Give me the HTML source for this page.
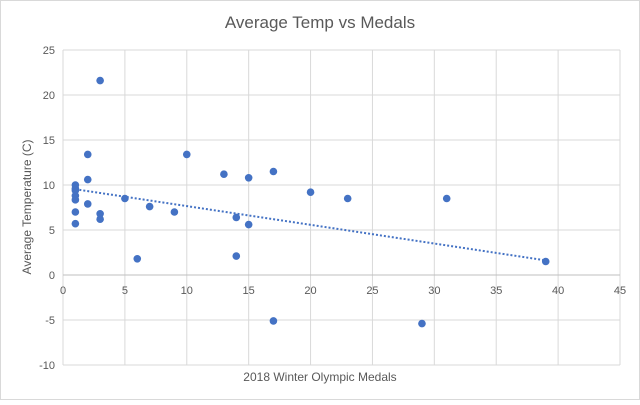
<!DOCTYPE html>
<html><head><meta charset="utf-8"><style>
body{margin:0;background:#fff}
svg text{font-family:"Liberation Sans",sans-serif;fill:#595959}
</style></head><body>
<svg id="c" width="640" height="400">
<rect x="0.5" y="0.5" width="639" height="399" fill="#fff" stroke="#d9d9d9"/>
<text x="320" y="28" text-anchor="middle" font-size="17">Average Temp vs Medals</text>
<text x="320" y="381" text-anchor="middle" font-size="12">2018 Winter Olympic Medals</text>
<text transform="translate(31,207) rotate(-90)" text-anchor="middle" font-size="12">Average Temperature  (C)</text>
<g id="grid"></g><g id="marks"></g>
</svg>
<script>
const xs=[1,1,1,1,1,1,1,2,2,2,3,3,3,5,6,7,9,10,13,14,14,15,15,17,17,20,23,29,31,39];
const ys=[10.0,9.6,9.4,8.8,8.35,7.0,5.7,13.4,10.6,7.9,21.6,6.8,6.2,8.5,1.8,7.6,7.0,13.4,11.2,6.4,2.1,10.8,5.6,11.5,-5.1,9.2,8.5,-5.4,8.5,1.5];
const xTicks=[0,5,10,15,20,25,30,35,40,45];
const yTicks=[25,20,15,10,5,0,-5,-10];
const NS="http://www.w3.org/2000/svg";
const X=v=>63+v*(557/45), Y=v=>275-v*9;
const grid=document.getElementById('grid'), marks=document.getElementById('marks');
function mk(tag,at,par){const e=document.createElementNS(NS,tag);for(const k in at)e.setAttribute(k,at[k]);par.appendChild(e);return e;}
yTicks.forEach(t=>{
 const l=mk('line',{x1:63,x2:620,y1:Y(t),y2:Y(t),stroke:'#d9d9d9'},grid);
 
 
 const tx=mk('text',{x:55,y:Y(t)+4,'text-anchor':'end','font-size':'11'},grid);tx.textContent=t;
 
 
});
xTicks.forEach(t=>{
 const l=mk('line',{x1:X(t),x2:X(t),y1:Y(25),y2:Y(-10),stroke:'#d9d9d9'},grid);
 
 
 const tx=mk('text',{x:X(t),y:Y(0)+19,'text-anchor':'middle','font-size':'11'},grid);tx.textContent=t;
 
 
});
const za=mk('line',{x1:63,x2:620,y1:Y(0),y2:Y(0),stroke:'#bfbfbf'},grid);


// trendline (least squares)
const n=xs.length,mx=xs.reduce((a,b)=>a+b)/n,my=ys.reduce((a,b)=>a+b)/n;
let sxy=0,sxx=0;xs.forEach((x,i)=>{sxy+=(x-mx)*(ys[i]-my);sxx+=(x-mx)**2;});
const b=sxy/sxx,a=my-b*mx,x0=Math.min(...xs),x1=Math.max(...xs);
const tl=mk('line',{x1:X(x0),y1:Y(a+b*x0),x2:X(x1),y2:Y(a+b*x1),stroke:'#4472c4','stroke-width':2,'stroke-dasharray':'2,2'},marks);


xs.forEach((x,i)=>{
 const c=mk('circle',{cx:X(x),cy:Y(ys[i]),r:3.8,fill:'#4472c4'},marks);
 
 
});
</script>
</body></html>
